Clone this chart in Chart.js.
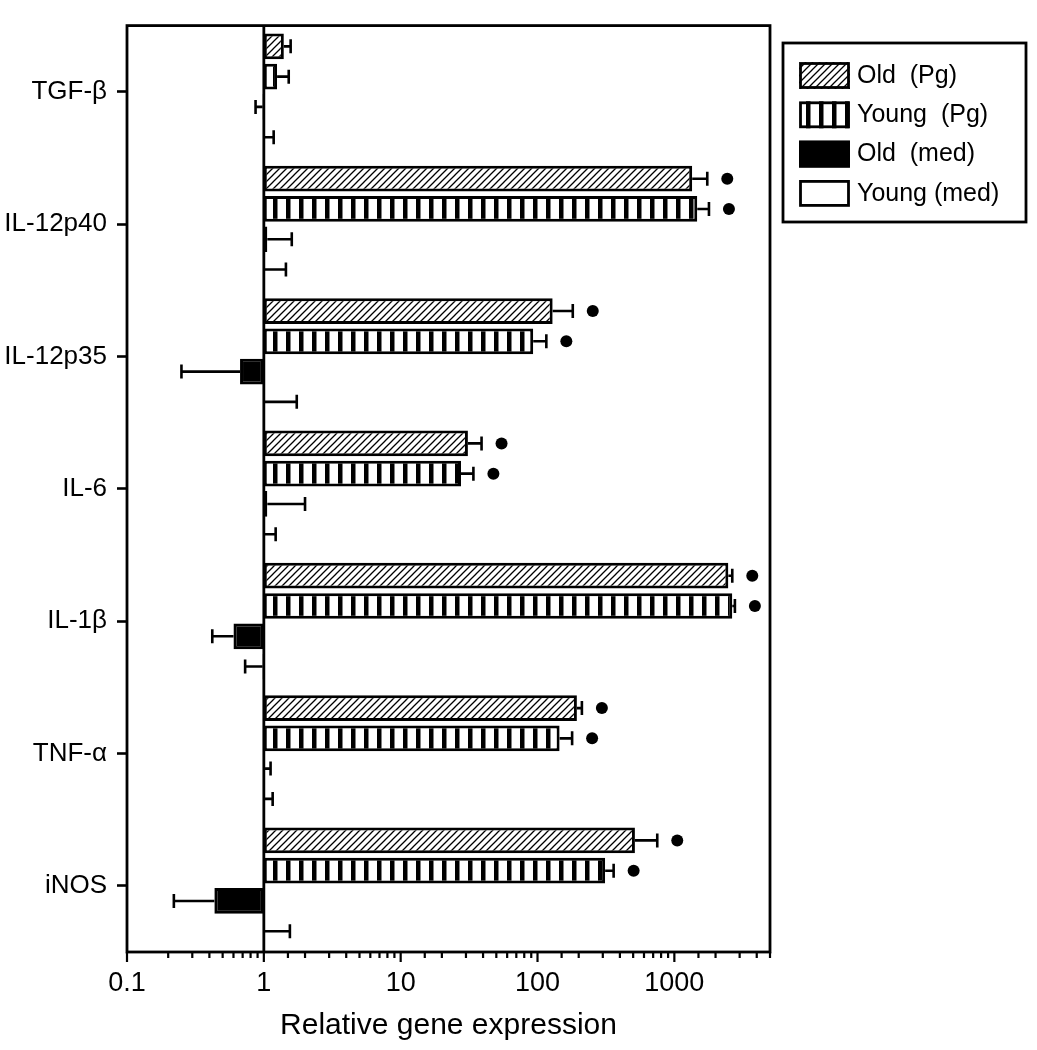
<!DOCTYPE html>
<html>
<head>
<meta charset="utf-8">
<script src="https://cdn.jsdelivr.net/npm/chart.js@4.4.1/dist/chart.umd.min.js"></script>
<style>
  html, body { margin: 0; padding: 0; background: #fff; }
  #wrap { width: 1037px; height: 1050px; position: relative; }
</style>
</head>
<body>
<div id="wrap"><canvas id="geneChart"></canvas></div>
<script>
// Relative gene expression by cytokine, log x axis, bars grow from 1
const GENES = ['TGF-β', 'IL-12p40', 'IL-12p35', 'IL-6', 'IL-1β', 'TNF-α', 'iNOS'];
const SERIES = ['Old  (Pg)', 'Young  (Pg)', 'Old  (med)', 'Young (med)'];

const OLD_PG       = [1.4, 1350, 129, 31, 2480, 194, 515];
const OLD_PG_ERR   = [1.57, 1740, 181, 39, 2650, 211, 750];
const YOUNG_PG     = [1.25, 1470, 93, 27.6, 2650, 145, 312];
const YOUNG_PG_ERR = [1.52, 1790, 116, 34, 2770, 179, 360];
const OLD_MED      = [0.98, 1.06, 0.67, 1.06, 0.6, 1.02, 0.435];
const OLD_MED_ERR  = [0.87, 1.6, 0.25, 2.0, 0.42, 1.12, 0.22];
const YOUNG_MED     = [1.0, 1.0, 1.0, 1.0, 0.98, 1.0, 1.0];
const YOUNG_MED_ERR = [1.18, 1.45, 1.74, 1.22, 0.73, 1.16, 1.55];

// significance dots next to the Pg bars
const SIG_OLD_PG   = [false, true, true, true, true, true, true];
const SIG_YOUNG_PG = [false, true, true, true, true, true, true];

const X_TICK_LABELS = ['0.1', '1', '10', '100', '1000'];
const X_MIN = 0.1, X_MAX = 5000;

const FONT = "'Liberation Sans Narrow', 'Liberation Sans', Arial, sans-serif";

function makePattern(w, h, paint) {
  const c = document.createElement('canvas');
  c.width = w; c.height = h;
  const g = c.getContext('2d');
  g.fillStyle = '#fff';
  g.fillRect(0, 0, w, h);
  paint(g);
  return g.createPattern(c, 'repeat');
}

const hatch = makePattern(7, 7, g => {
  g.strokeStyle = '#000';
  g.lineWidth = 1.3;
  g.beginPath();
  g.moveTo(-1, 8); g.lineTo(8, -1);
  g.moveTo(-1, 1); g.lineTo(1, -1);
  g.moveTo(6, 8); g.lineTo(8, 6);
  g.stroke();
});
const stripes = makePattern(13, 13, g => {
  g.fillStyle = '#000';
  g.fillRect(0, 0, 4.5, 13);
});

const isPow10 = v => {
  const l = Math.log10(v);
  return Math.abs(l - Math.round(l)) < 1e-6;
};
const floatBars = vals => vals.map(v => [1, v]);

// box, x tick marks and the reference line at 1
const framePlugin = {
  id: 'frame',
  afterDatasetsDraw(chart) {
    const { ctx, chartArea: a, scales: { x } } = chart;
    ctx.save();
    ctx.strokeStyle = '#000';
    ctx.lineWidth = 2.8;
    ctx.strokeRect(a.left, a.top, a.right - a.left, a.bottom - a.top);
    const p1 = x.getPixelForValue(1);
    ctx.beginPath();
    ctx.moveTo(p1, a.top);
    ctx.lineTo(p1, a.bottom);
    ctx.stroke();
    ctx.lineWidth = 2.2;
    ctx.beginPath();
    x.ticks.forEach(t => {
      const px = x.getPixelForValue(t.value);
      ctx.moveTo(px, a.bottom);
      ctx.lineTo(px, a.bottom + (isPow10(t.value) ? 10 : 6));
    });
    ctx.stroke();
    ctx.restore();
  }
};

// whiskers and significance dots
const errorPlugin = {
  id: 'errors',
  afterDatasetsDraw(chart) {
    const { ctx, scales: { x } } = chart;
    ctx.save();
    ctx.strokeStyle = '#000';
    ctx.fillStyle = '#000';
    ctx.lineWidth = 2.6;
    chart.data.datasets.forEach((ds, di) => {
      const meta = chart.getDatasetMeta(di);
      meta.data.forEach((bar, i) => {
        const y = bar.y;
        const x0 = x.getPixelForValue(ds.data[i][1]);
        const x1 = x.getPixelForValue(ds.err[i]);
        ctx.beginPath();
        ctx.moveTo(x0, y);
        ctx.lineTo(x1, y);
        ctx.moveTo(x1, y - 7);
        ctx.lineTo(x1, y + 7);
        ctx.stroke();
        if (ds.sig && ds.sig[i]) {
          ctx.beginPath();
          ctx.arc(x1 + 20, y, 6, 0, Math.PI * 2);
          ctx.fill();
        }
      });
    });
    ctx.restore();
  }
};

// boxed legend to the right of the plot
const legendPlugin = {
  id: 'boxLegend',
  afterDraw(chart) {
    const { ctx, chartArea: a } = chart;
    const left = a.right + 13, top = 43, w = 243, h = 179;
    ctx.save();
    ctx.strokeStyle = '#000';
    ctx.lineWidth = 2.8;
    ctx.strokeRect(left, top, w, h);
    ctx.font = '25px ' + FONT;
    ctx.textBaseline = 'middle';
    ctx.textAlign = 'left';
    chart.data.datasets.forEach((ds, i) => {
      const y = top + 19 + i * 39.3;
      ctx.fillStyle = ds.backgroundColor;
      ctx.fillRect(left + 16, y, 51, 27);
      ctx.strokeRect(left + 17.5, y + 1.5, 48, 24);
      ctx.fillStyle = '#000';
      ctx.fillText(ds.label, left + 74, y + 14);
    });
    ctx.restore();
  }
};

new Chart(document.getElementById('geneChart'), {
  type: 'bar',
  data: {
    labels: GENES,
    datasets: [
      { label: SERIES[0], data: floatBars(OLD_PG), err: OLD_PG_ERR, sig: SIG_OLD_PG, backgroundColor: hatch },
      { label: SERIES[1], data: floatBars(YOUNG_PG), err: YOUNG_PG_ERR, sig: SIG_YOUNG_PG, backgroundColor: stripes },
      { label: SERIES[2], data: floatBars(OLD_MED), err: OLD_MED_ERR, backgroundColor: '#000' },
      { label: SERIES[3], data: floatBars(YOUNG_MED), err: YOUNG_MED_ERR, backgroundColor: '#fff' }
    ]
  },
  options: {
    indexAxis: 'y',
    responsive: true,
    maintainAspectRatio: false,
    animation: false,
    datasets: {
      bar: {
        borderColor: '#000',
        borderWidth: 3,
        borderSkipped: false,
        categoryPercentage: 0.915,
        barPercentage: 0.85
      }
    },
    layout: { padding: { top: 24, right: 267, left: 0, bottom: 0 } },
    plugins: {
      legend: { display: false },
      tooltip: { enabled: false }
    },
    scales: {
      x: {
        type: 'logarithmic',
        min: X_MIN,
        max: X_MAX,
        grid: { display: false, drawTicks: false },
        border: { display: false },
        ticks: {
          autoSkip: false,
          maxRotation: 0,
          padding: 15,
          color: '#000',
          font: { family: FONT, size: 27 },
          callback: v => isPow10(v) ? (X_TICK_LABELS[Math.round(Math.log10(v)) + 1] || '') : ''
        },
        title: {
          display: true,
          text: 'Relative gene expression',
          color: '#000',
          font: { family: "'Liberation Sans', Arial, sans-serif", size: 30 },
          padding: { top: 0, bottom: 6 }
        },
        afterFit: s => { s.height = 98; }
      },
      y: {
        grid: {
          drawOnChartArea: false,
          drawTicks: true,
          tickLength: 10,
          tickWidth: 2.6,
          tickColor: '#000',
          offset: false
        },
        border: { display: false },
        ticks: {
          color: '#000',
          padding: 10,
          font: { family: FONT, size: 26 }
        },
        afterFit: s => { s.width = 127; }
      }
    }
  },
  plugins: [framePlugin, errorPlugin, legendPlugin]
});
</script>
</body>
</html>
